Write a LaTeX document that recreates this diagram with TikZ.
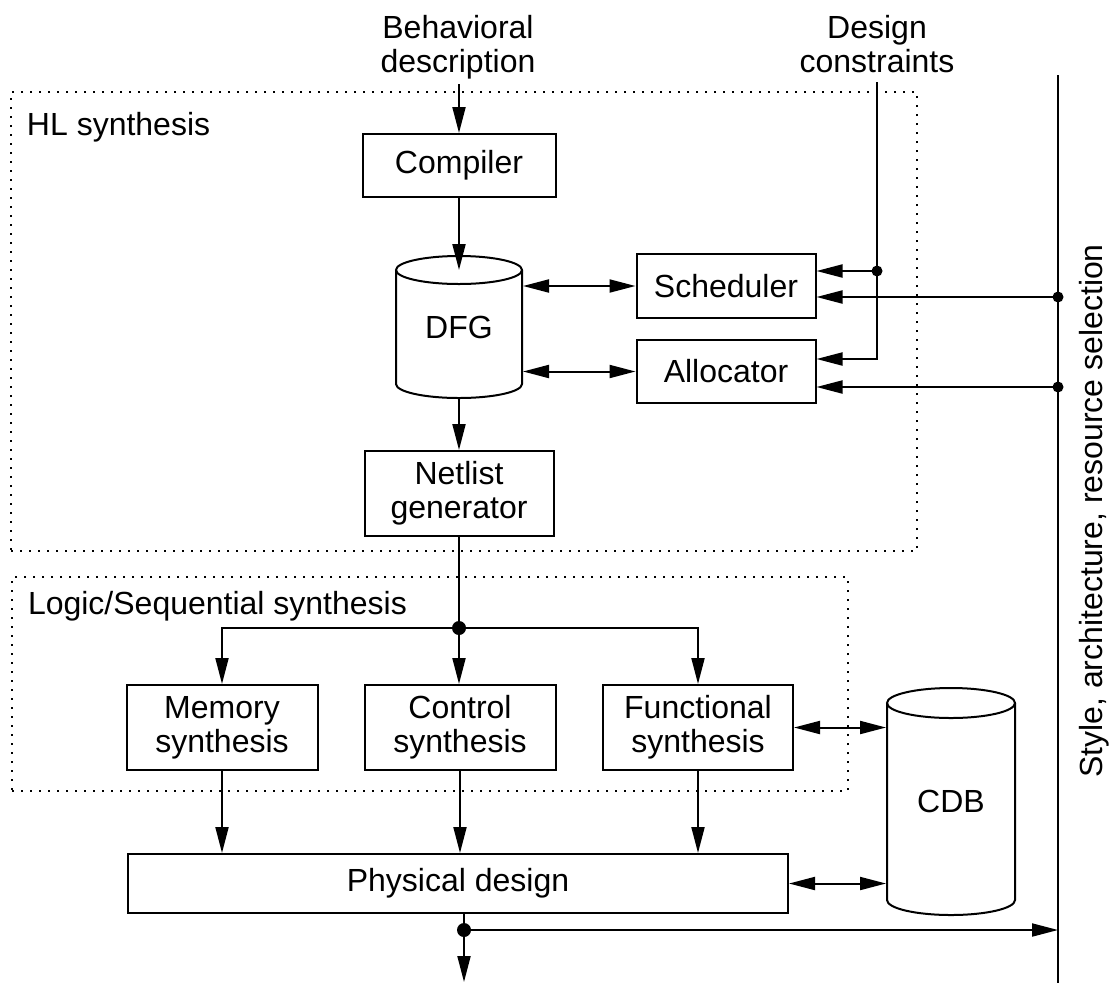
\documentclass[tikz,border=0pt]{standalone}
\usepackage{fontspec}
\setmainfont{Liberation Sans}
\usetikzlibrary{arrows.meta}

\begin{document}
\begin{tikzpicture}[
  x=1pt, y=-1pt,
  font=\fontsize{32}{34}\selectfont,
  line width=2pt,
  box/.style={draw, inner sep=0pt, align=center},
  plain/.style={inner sep=0pt, align=center},
  frame/.style={draw, inner sep=0pt, line width=2pt, dash pattern=on 2pt off 7pt},
  arr/.style={-{Triangle[length=26pt,width=13pt]}},
  biarr/.style={{Triangle[length=26pt,width=13pt]}-{Triangle[length=26pt,width=13pt]}},
  dot/.style={circle, fill, inner sep=0pt, minimum size=#1},
  dot/.default=11pt
]
\useasboundingbox (0,0) rectangle (1115,983);

% ---- dotted synthesis regions
\node[frame, minimum width=906pt, minimum height=459pt] (hlbox) at (464,321.5) {};
\node[frame, minimum width=836pt, minimum height=214pt] (lsbox) at (430,684) {};
\node[plain, anchor=base west] (hllabel) at (26,135) {HL synthesis};
\node[plain, anchor=base west] (lslabel) at (27,614) {Logic/Sequential synthesis};

% ---- inputs
\node[plain, anchor=north] (beh) at (458,14) {Behavioral\\description};
\node[plain, anchor=north] (dc) at (877,14) {Design\\constraints};
\coordinate (behend) at (459,84);

% ---- high-level synthesis blocks
\node[box, minimum width=193pt, minimum height=63pt] (comp) at (459,165.5) {Compiler};
\node[plain, minimum width=126pt, minimum height=142pt] (dfg) at (459,327) {DFG};
\draw (396,270) -- (396,384) arc[start angle=180, end angle=0, x radius=63, y radius=14] -- (522,270);
\draw (459,270) ellipse[x radius=63, y radius=14];
\coordinate (dfgtop) at (459,270);
\coordinate (dfgbot) at (459,398);
\node[box, minimum width=179pt, minimum height=64pt] (sched) at (726,286) {Scheduler};
\node[box, minimum width=179pt, minimum height=63pt] (alloc) at (726,371.5) {Allocator};
\node[box, minimum width=189pt, minimum height=85pt] (net) at (459,493.5) {Netlist\\generator};

% ---- logic / sequential synthesis blocks
\node[box, minimum width=191pt, minimum height=85pt] (mem) at (222,727.5) {Memory\\synthesis};
\node[box, minimum width=191pt, minimum height=85pt] (ctrl) at (460,727.5) {Control\\synthesis};
\node[box, minimum width=190pt, minimum height=85pt] (func) at (698,727.5) {Functional\\synthesis};
\node[box, minimum width=660pt, minimum height=59pt] (phys) at (458,883.5) {Physical design};

% ---- component database
\node[plain, minimum width=128pt, minimum height=227pt] (cdb) at (951,801.5) {CDB};
\draw (887,703) -- (887,900) arc[start angle=180, end angle=0, x radius=64, y radius=15] -- (1015,703);
\draw (951,703) ellipse[x radius=64, y radius=15];

% ---- side rail
\coordinate (railtop) at (1058,75);
\coordinate (railbot) at (1058,983);
\draw (railtop) -- (railbot);
\node[plain, rotate=90, anchor=base] (style) at (1102,511) {Style, architecture, resource selection};

% ---- main flow
\draw[arr] (behend) -- (comp.north);
\draw[arr] (comp.south) -- (dfgtop);
\draw[arr] (dfgbot) -- (net.north);
\draw[biarr] (sched.west -| dfg.east) -- (sched.west);
\draw[biarr] (alloc.west -| dfg.east) -- (alloc.west);

% design constraints
\coordinate (dctop) at (877,82);
\coordinate (dcdot) at (877,271);
\coordinate (dcbend) at (877,359);
\draw[arr] (dctop) -- (dcbend) -- (dcbend -| alloc.east);
\draw[arr] (dcdot) -- (dcdot -| sched.east);
\node[dot] (dcdotn) at (dcdot) {};

% style / architecture inputs
\coordinate (rs) at (1058,297);
\coordinate (ra) at (1058,387);
\draw[arr] (rs) -- (rs -| sched.east);
\draw[arr] (ra) -- (ra -| alloc.east);
\node[dot] (rsdot) at (rs) {};
\node[dot] (radot) at (ra) {};

% netlist fan-out
\coordinate (split) at (459,628);
\draw (net.south) -- (split);
\draw[arr] (split) -| (mem.north);
\draw[arr] (split) -- (split |- ctrl.north);
\draw[arr] (split) -| (func.north);
\node[dot=14pt] (splitdot) at (split) {};

\draw[arr] (mem.south) -- (phys.north -| mem.south);
\draw[arr] (ctrl.south) -- (phys.north -| ctrl.south);
\draw[arr] (func.south) -- (phys.north -| func.south);

\draw[biarr] (func.east) -- (func.east -| cdb.west);
\draw[biarr] (phys.east) -- (phys.east -| cdb.west);

% output
\coordinate (outdot) at (464,930);
\coordinate (outend) at (464,982);
\draw[arr] (outdot |- phys.south) -- (outend);
\draw[arr] (outdot) -- (outdot -| railtop);
\node[dot=14pt] (outdotn) at (outdot) {};
\end{tikzpicture}
\end{document}
